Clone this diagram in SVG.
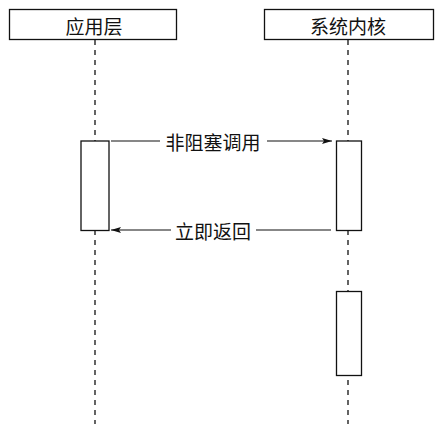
<svg xmlns="http://www.w3.org/2000/svg" width="446" height="434" viewBox="0 0 446 434">
<defs>
<style>
.box{fill:#fff;stroke:#111;stroke-width:1.3}
.life{stroke:#111;stroke-width:1.3;stroke-dasharray:5 5;fill:none}
.msg{stroke:#111;stroke-width:1.2;fill:none}
.t{font-family:"Noto Sans CJK SC",sans-serif;font-size:19px;fill:#111;text-anchor:middle;dominant-baseline:central}
</style>
<marker id="ah" viewBox="0 0 10 6" refX="10" refY="3" markerWidth="10" markerHeight="6" markerUnits="userSpaceOnUse" orient="auto">
<path d="M0,0 L10,3 L0,6 L2,3 Z" fill="#111"/>
</marker>
</defs>
<rect width="446" height="434" fill="#fff"/>
<g id="lifelines">
<line class="life" x1="95" y1="40" x2="95" y2="424"/>
<line class="life" x1="348" y1="40" x2="348" y2="424"/>
</g>
<g id="app">
<rect class="box" x="9.5" y="9.5" width="167" height="30"/>
<text class="t" x="94" y="25">应用层</text>
</g>
<g id="kernel">
<rect class="box" x="264.5" y="9.5" width="169" height="30"/>
<text class="t" x="348" y="25">系统内核</text>
</g>
<g id="act-app">
<rect class="box" x="81" y="141" width="28" height="89.5"/>
</g>
<g id="act-kernel-1">
<rect class="box" x="336.5" y="141" width="25" height="89.5"/>
</g>
<g id="act-kernel-2">
<rect class="box" x="336.5" y="291.5" width="25" height="84"/>
</g>
<g id="connectors">
<line class="msg" x1="111" y1="141" x2="332" y2="141" marker-end="url(#ah)"/>
<rect x="160" y="130" width="107" height="22" fill="#fff"/>
<text class="t" x="213" y="141">非阻塞调用</text>
<line class="msg" x1="331" y1="230" x2="111" y2="230" marker-end="url(#ah)"/>
<rect x="171" y="219" width="85" height="22" fill="#fff"/>
<text class="t" x="213" y="230">立即返回</text>
</g>
</svg>
